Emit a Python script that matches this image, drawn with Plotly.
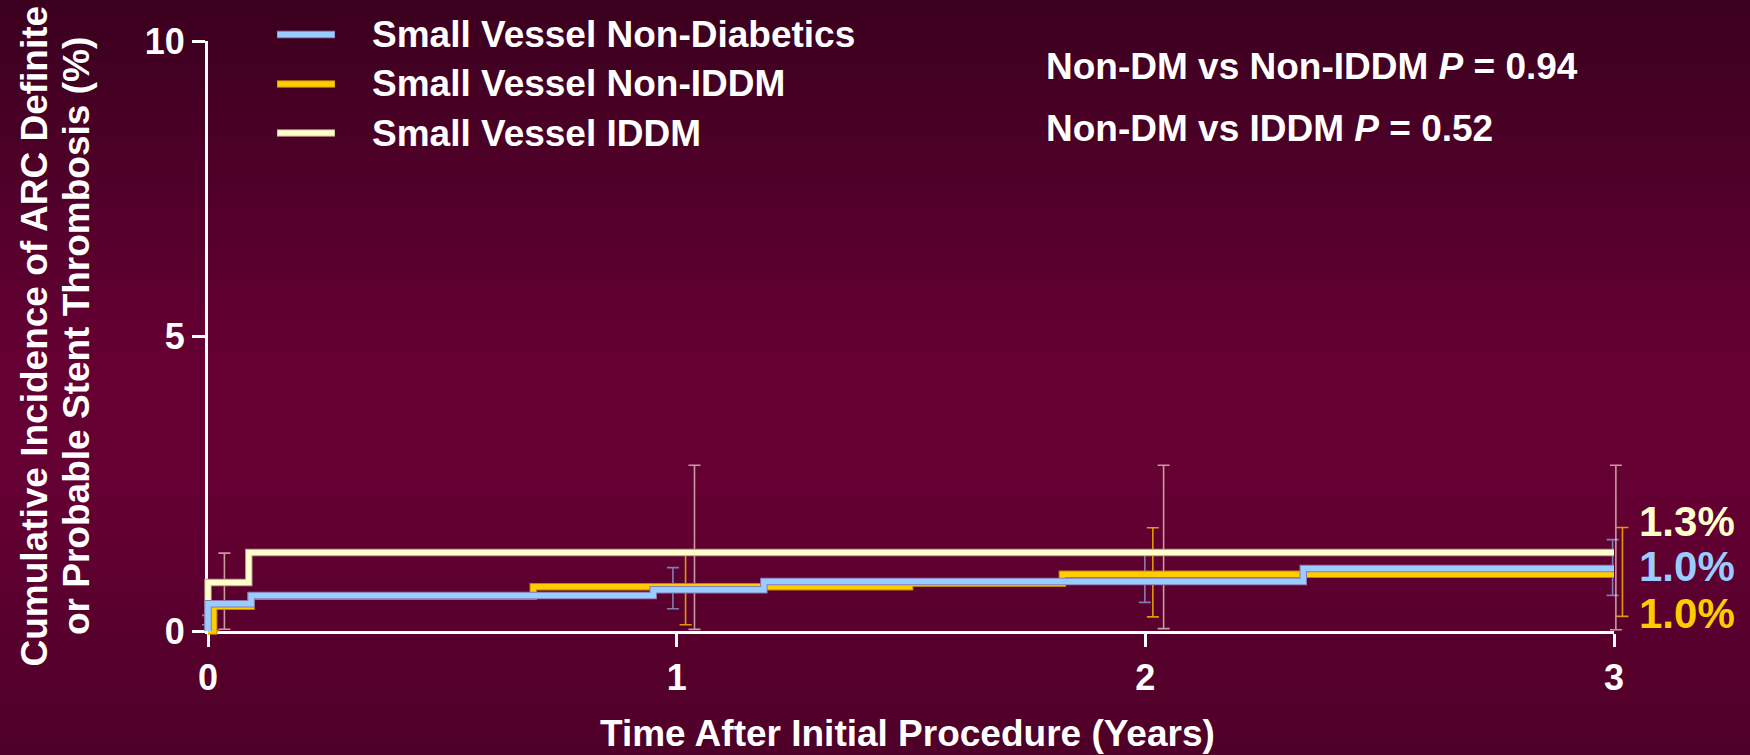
import plotly.graph_objects as go

# ---------------- data ----------------
series_names = ["Small Vessel Non-Diabetics", "Small Vessel Non-IDDM", "Small Vessel IDDM"]

nd_t = [0, 0, 0.092, 0.95, 1.186, 2.337, 3.0]
nd_y = [0, 0.46, 0.60, 0.70, 0.84, 1.06, 1.06]

niddm_t = [0, 0.012, 0.092, 0.694, 1.497, 1.823, 3.0]
niddm_y = [0, 0.42, 0.59, 0.75, 0.81, 0.96, 0.96]

iddm_t = [0, 0, 0.087, 3.0]
iddm_y = [0, 0.82, 1.33, 1.33]

# confidence-interval bars
nd_ci_t = [0.0, 0.992, 1.999, 2.997]
nd_ci_lo = [0.107, 0.378, 0.485, 0.604]
nd_ci_hi = [0.265, 1.074, 1.32, 1.549]

niddm_ci_t = [0.012, 1.019, 2.016, 3.018]
niddm_ci_lo = [0.0, 0.107, 0.24, 0.248]
niddm_ci_hi = [0.41, 1.295, 1.75, 1.753]

iddm_ci_t = [0.035, 1.038, 2.039, 3.004]
iddm_ci_lo = [0.03, 0.027, 0.04, 0.02]
iddm_ci_hi = [1.32, 2.81, 2.81, 2.81]

end_labels = ["1.3%", "1.0%", "1.0%"]
x_ticks = [0, 1, 2, 3]
y_ticks = [0, 5, 10]

x_title = "Time After Initial Procedure (Years)"
y_title_lines = ["Cumulative Incidence of ARC Definite", "or Probable Stent Thrombosis (%)"]
stat_lines = ["Non-DM vs Non-IDDM <i>P</i> = 0.94", "Non-DM vs IDDM <i>P</i> = 0.52"]

# ---------------- layout geometry ----------------
W, H = 1750, 755
L, R, T, B = 208, 136, 41, 124          # axes box in pixels
EXT_L, EXT_R, EXT_B = 12, 28, 12        # extra room so marks are not clipped
ML, MR, MT, MB = L - EXT_L, R - EXT_R, T, B - EXT_B
PW, PH = W - L - R, H - T - B
PW2, PH2 = W - ML - MR, H - MT - MB
X0, X1 = 0.0, 3.0
Y0, Y1 = 0.0, 10.0
FONT = "Liberation Sans, Arial, sans-serif"

C_ND, C_NI, C_ID = "#99ccff", "#ffcc00", "#ffffcc"
E_ND, E_NI, E_ID = "#8a78b0", "#b8860b", "#b89888"
CI_ND, CI_NI, CI_ID = "rgba(153,204,255,0.62)", "rgba(255,190,0,0.8)", "rgba(255,240,215,0.65)"


def xp(px):
    return (px - ML) / PW2


def yp(py):
    return (H - MB - py) / PH2


fig = go.Figure()

# dummy trace so the visible axes subplot exists
fig.add_trace(go.Scatter(x=[None], y=[None], xaxis="x", yaxis="y", showlegend=False))

# CI bars (below curves)
for t, lo, hi, c in [(nd_ci_t, nd_ci_lo, nd_ci_hi, CI_ND),
                     (niddm_ci_t, niddm_ci_lo, niddm_ci_hi, CI_NI),
                     (iddm_ci_t, iddm_ci_lo, iddm_ci_hi, CI_ID)]:
    fig.add_trace(go.Scatter(
        x=t, y=lo, mode="markers", marker=dict(size=1, opacity=0), xaxis="x2", yaxis="y2",
        error_y=dict(type="data", symmetric=False,
                     array=[h - l for h, l in zip(hi, lo)], arrayminus=[0] * len(lo),
                     color=c, thickness=1.6, width=6),
        showlegend=False, hoverinfo="skip"))

# step curves (edge + main), IDDM at bottom, Non-Diabetics on top
for t, y, c, e in [(iddm_t, iddm_y, C_ID, E_ID), (niddm_t, niddm_y, C_NI, E_NI), (nd_t, nd_y, C_ND, E_ND)]:
    fig.add_trace(go.Scatter(x=t, y=y, mode="lines", line=dict(color=e, width=7.5, shape="hv"),
                             xaxis="x2", yaxis="y2", showlegend=False, hoverinfo="skip"))
    fig.add_trace(go.Scatter(x=t, y=y, mode="lines", line=dict(color=c, width=5.5, shape="hv"),
                             xaxis="x2", yaxis="y2", showlegend=False))

# background gradient
stops = [(0, (58, 0, 30)), (350, (100, 0, 50)), (480, (101, 0, 51)), (755, (78, 0, 40))]


def grad(py):
    for (y0, c0), (y1, c1) in zip(stops[:-1], stops[1:]):
        if y0 <= py <= y1:
            f = (py - y0) / (y1 - y0)
            return "rgb(%d,%d,%d)" % tuple(round(a + (b - a) * f) for a, b in zip(c0, c1))
    return "rgb(%d,%d,%d)" % stops[-1][1]


shapes = []
step = 6
for py in range(0, H, step):
    shapes.append(dict(type="rect", xref="paper", yref="paper", layer="below",
                       x0=xp(-5), x1=xp(W + 5), y0=yp(py + step + 1), y1=yp(py),
                       fillcolor=grad(py + step / 2), line=dict(width=0)))

annotations = []
# manual legend
leg_y = [34.5, 84, 133]
for name, c, e, y in zip(series_names, [C_ND, C_NI, C_ID], [E_ND, E_NI, E_ID], leg_y):
    shapes.append(dict(type="line", xref="paper", yref="paper", x0=xp(277), x1=xp(335),
                       y0=yp(y), y1=yp(y), line=dict(color=e, width=7.5)))
    shapes.append(dict(type="line", xref="paper", yref="paper", x0=xp(277.5), x1=xp(334.5),
                       y0=yp(y), y1=yp(y), line=dict(color=c, width=5.5)))
    annotations.append(dict(xref="paper", yref="paper", x=xp(370), y=yp(y), xanchor="left",
                            yanchor="middle", showarrow=False, text="<b>%s</b>" % name,
                            font=dict(family=FONT, size=37, color="white")))

# stats text
for txt, y in zip(stat_lines, [67, 129]):
    annotations.append(dict(xref="paper", yref="paper", x=xp(1044), y=yp(y), xanchor="left",
                            yanchor="middle", showarrow=False, text="<b>%s</b>" % txt,
                            font=dict(family=FONT, size=37, color="white")))

# end labels
for txt, c, y in zip(end_labels, [C_ID, C_ND, C_NI], [521, 566, 613]):
    annotations.append(dict(xref="paper", yref="paper", x=xp(1637), y=yp(y), xanchor="left",
                            yanchor="middle", showarrow=False, text="<b>%s</b>" % txt,
                            font=dict(family=FONT, size=42, color=c)))

# axis titles
annotations.append(dict(xref="paper", yref="paper", x=xp(L + PW / 2 - 4), y=yp(733),
                        xanchor="center", yanchor="middle", showarrow=False,
                        text="<b>%s</b>" % x_title, font=dict(family=FONT, size=37, color="white")))
for txt, px in zip(y_title_lines, [33.5, 76]):
    annotations.append(dict(xref="paper", yref="paper", x=xp(px), y=yp(T + PH / 2),
                            xanchor="center", yanchor="middle", showarrow=False, textangle=-90,
                            text="<b>%s</b>" % txt, font=dict(family=FONT, size=37, color="white")))

axis_common = dict(showgrid=False, zeroline=False, showline=True, linecolor="white", linewidth=3,
                   ticks="outside", ticklen=13, tickwidth=3, tickcolor="white", automargin=False,
                   tickfont=dict(family=FONT, size=36, color="white"))

fig.update_layout(
    width=W, height=H, template="none",
    margin=dict(l=ML, r=MR, t=MT, b=MB, pad=0, autoexpand=False),
    paper_bgcolor="rgb(90,0,45)", plot_bgcolor="rgba(0,0,0,0)",
    font=dict(family=FONT, color="white"),
    showlegend=False,
    shapes=shapes, annotations=annotations,
    xaxis=dict(range=[X0, X1], domain=[EXT_L / PW2, (EXT_L + PW) / PW2], anchor="y",
               tickvals=x_ticks, ticktext=["<b>%d</b>" % v for v in x_ticks], **axis_common),
    yaxis=dict(range=[Y0, Y1], domain=[EXT_B / PH2, 1], anchor="x",
               tickvals=y_ticks, ticktext=["<b>%d</b>" % v for v in y_ticks], **axis_common),
    xaxis2=dict(range=[X0 - (X1 - X0) * EXT_L / PW, X1 + (X1 - X0) * EXT_R / PW], domain=[0, 1],
                anchor="y2", visible=False, fixedrange=True),
    yaxis2=dict(range=[Y0 - (Y1 - Y0) * EXT_B / PH, Y1], domain=[0, 1],
                anchor="x2", visible=False, fixedrange=True),
)

fig.write_html("out.html", config={"displayModeBar": False},
               post_script="document.body.style.margin='0px';document.body.style.overflow='hidden';")
